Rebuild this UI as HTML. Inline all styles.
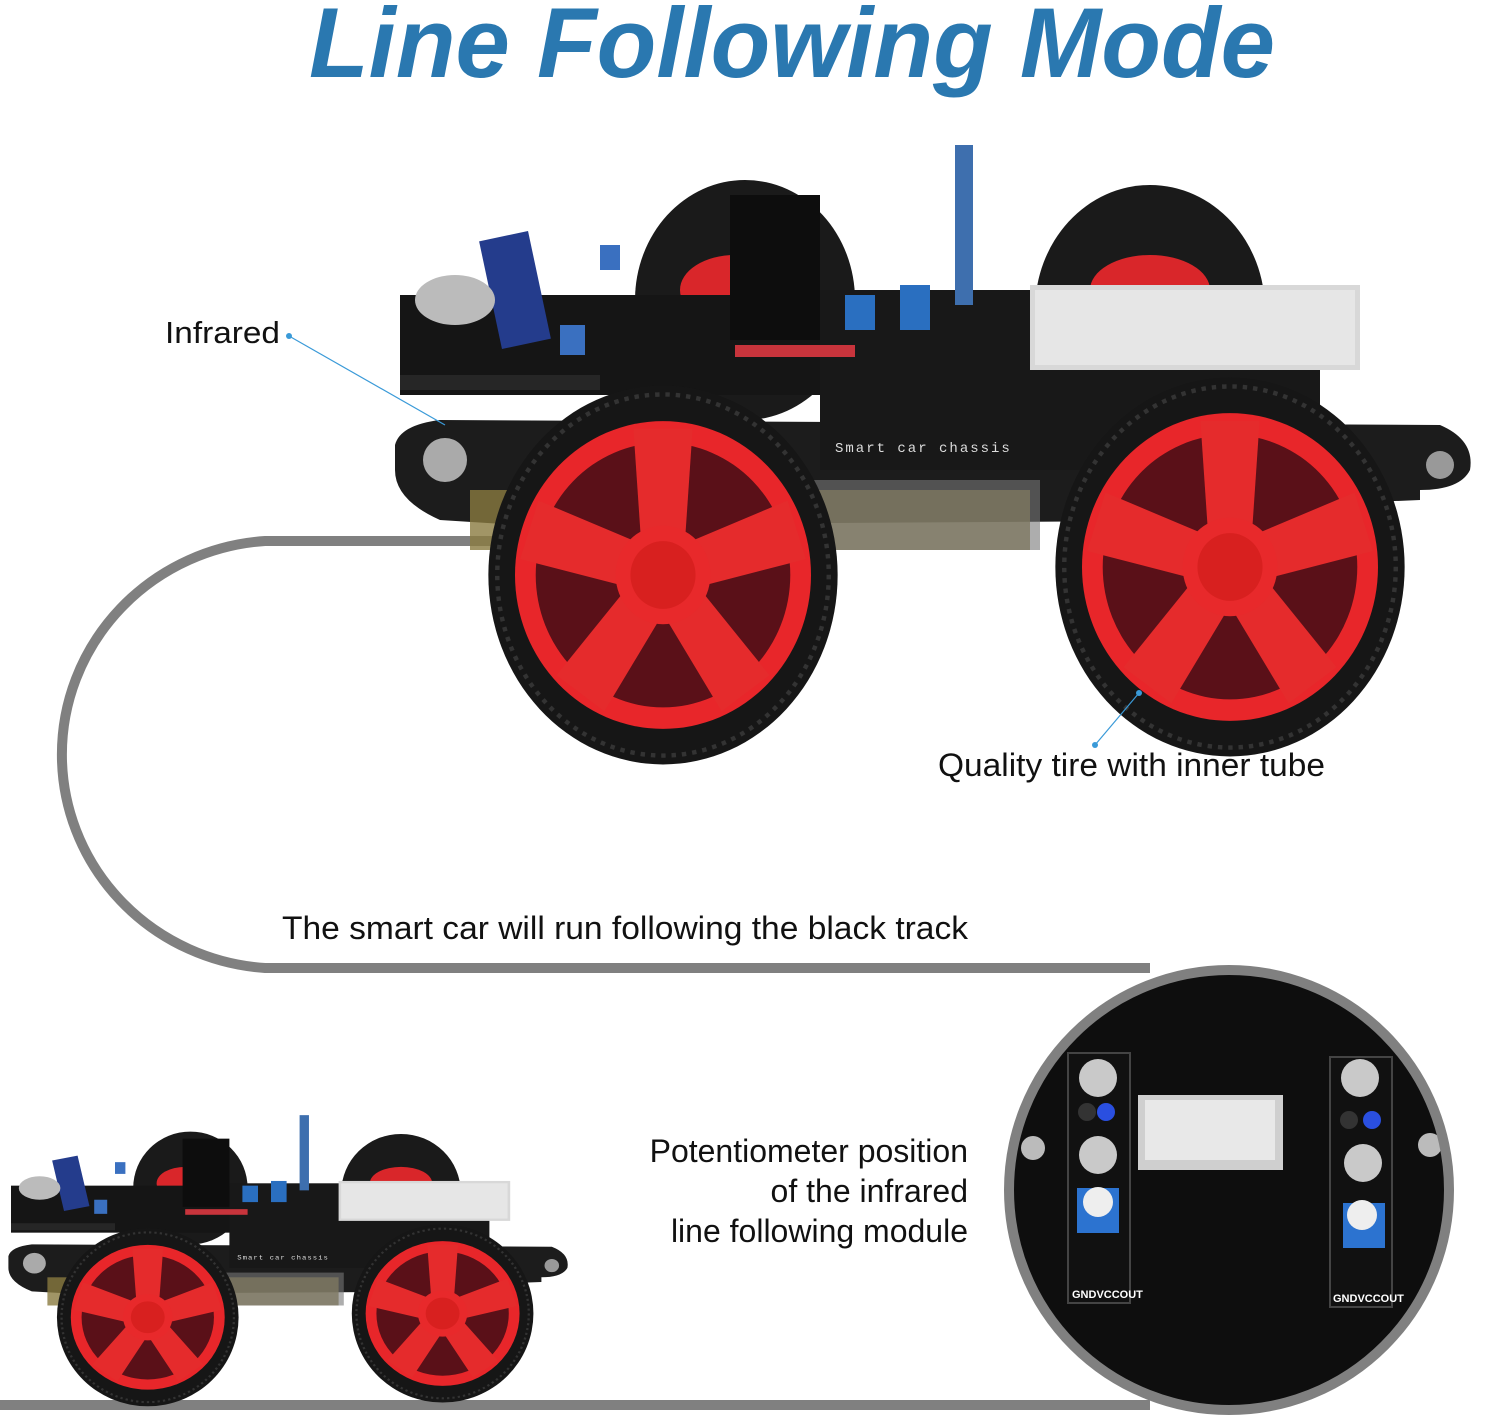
<!DOCTYPE html>
<html><head><meta charset="utf-8"><style>
html,body{margin:0;padding:0;background:#fff}
svg{display:block}
text{font-family:"Liberation Sans",Arial,sans-serif}
</style></head><body>
<svg width="1487" height="1419" viewBox="0 0 1487 1419" xmlns="http://www.w3.org/2000/svg">
<defs>
<g id="rim">
 <circle r="100" fill="#e8262a"/>
 <circle r="86" fill="#5a1018"/>
 <g fill="#e52b2c">
  <path d="M-14,-10 L-20,-95 L20,-95 L14,-10Z"/>
  <path d="M-14,-10 L-20,-95 L20,-95 L14,-10Z" transform="rotate(72)"/>
  <path d="M-14,-10 L-20,-95 L20,-95 L14,-10Z" transform="rotate(144)"/>
  <path d="M-14,-10 L-20,-95 L20,-95 L14,-10Z" transform="rotate(216)"/>
  <path d="M-14,-10 L-20,-95 L20,-95 L14,-10Z" transform="rotate(288)"/>
 </g>
 <circle r="32" fill="#e8292b"/>
 <circle r="22" fill="#d8201f"/>
</g>
<g id="wheel">
 <ellipse rx="118" ry="128" fill="#161616"/>
 <ellipse rx="112" ry="122" fill="none" stroke="#333" stroke-width="3" stroke-dasharray="3 4"/>
 <g transform="scale(1,1.04)"><use href="#rim"/></g>
</g>
<g id="car">
 <ellipse cx="745" cy="300" rx="110" ry="120" fill="#1a1a1a"/>
 <ellipse cx="735" cy="290" rx="55" ry="35" fill="#d9262a"/>
 <ellipse cx="1150" cy="310" rx="115" ry="125" fill="#1a1a1a"/>
 <ellipse cx="1150" cy="290" rx="60" ry="35" fill="#d9262a"/>
 <path d="M395,445 Q400,425 440,420 L1440,425 Q1475,440 1470,470 Q1460,490 1420,490 L1420,500 L1300,505 L1300,520 L520,525 L440,520 Q395,500 395,470Z" fill="#1c1c1c"/>
 <rect x="400" y="295" width="640" height="100" fill="#151515"/>
 <rect x="820" y="290" width="500" height="180" fill="#181818"/>
 <rect x="470" y="490" width="560" height="60" fill="#8a7a40" opacity="0.8"/>
 <rect x="600" y="480" width="440" height="70" fill="#777" opacity="0.6"/>
 <rect x="1030" y="285" width="330" height="85" fill="#d8d8d8"/>
 <rect x="1035" y="290" width="320" height="75" fill="#e6e6e6"/>
 <rect x="730" y="195" width="90" height="145" fill="#0d0d0d"/>
 <rect x="735" y="345" width="120" height="12" fill="#c8343c"/>
 <rect x="845" y="295" width="30" height="35" fill="#2a6fc0"/>
 <rect x="900" y="285" width="30" height="45" fill="#2a6fc0"/>
 <rect x="955" y="145" width="18" height="160" fill="#3e6fae"/>
 <rect x="490" y="235" width="50" height="110" fill="#243c8c" transform="rotate(-12 515 290)"/>
 <ellipse cx="455" cy="300" rx="40" ry="25" fill="#bbb"/>
 <rect x="600" y="245" width="20" height="25" fill="#3a70c0"/>
 <rect x="560" y="325" width="25" height="30" fill="#3a70c0"/>
 <rect x="400" y="375" width="200" height="15" fill="#262626"/>
 <circle cx="445" cy="460" r="22" fill="#aaa"/>
 <circle cx="1440" cy="465" r="14" fill="#999"/>
 <text x="835" y="452" fill="#ddd" font-size="14" letter-spacing="2" style="font-family:'Liberation Mono',monospace">Smart car chassis</text>
 <g transform="translate(663,575) scale(1.48)"><use href="#wheel"/></g>
 <g transform="translate(1230,567) scale(1.48)"><use href="#wheel"/></g>
</g>
</defs>

<text x="792" y="77" text-anchor="middle" font-size="99" font-weight="bold" font-style="italic" fill="#2a78b0" textLength="966" lengthAdjust="spacingAndGlyphs">Line Following Mode</text>

<path d="M520,541 L265,541 A218,214 0 0 0 265,968 L1150,968" fill="none" stroke="#808080" stroke-width="10"/>
<line x1="0" y1="1405" x2="1150" y2="1405" stroke="#808080" stroke-width="10"/>

<use href="#car"/>

<g transform="translate(-197,1047) scale(0.52,0.47)"><use href="#car"/></g>

<circle cx="1229" cy="1190" r="217" fill="#0e0e0e"/>
<rect x="1138" y="1095" width="145" height="75" fill="#cfcfcf"/>
<rect x="1145" y="1100" width="130" height="60" fill="#e8e8e8"/>
<g>
 <rect x="1068" y="1053" width="62" height="250" fill="#111" stroke="#444" stroke-width="2"/>
 <circle cx="1098" cy="1078" r="19" fill="#c9c9c9"/>
 <circle cx="1087" cy="1112" r="9" fill="#333"/>
 <circle cx="1106" cy="1112" r="9" fill="#2a4fe0"/>
 <circle cx="1098" cy="1155" r="19" fill="#c9c9c9"/>
 <rect x="1077" y="1188" width="42" height="45" fill="#2c73d0"/>
 <circle cx="1098" cy="1202" r="15" fill="#eee"/>
 <text x="1072" y="1298" fill="#fff" font-size="11" font-weight="bold">GNDVCCOUT</text>
</g>
<g>
 <rect x="1330" y="1057" width="62" height="250" fill="#111" stroke="#444" stroke-width="2"/>
 <circle cx="1360" cy="1078" r="19" fill="#c9c9c9"/>
 <circle cx="1349" cy="1120" r="9" fill="#333"/>
 <circle cx="1372" cy="1120" r="9" fill="#2a4fe0"/>
 <circle cx="1363" cy="1163" r="19" fill="#c9c9c9"/>
 <rect x="1343" y="1203" width="42" height="45" fill="#2c73d0"/>
 <circle cx="1362" cy="1215" r="15" fill="#eee"/>
 <text x="1333" y="1302" fill="#fff" font-size="11" font-weight="bold">GNDVCCOUT</text>
</g>
<circle cx="1033" cy="1148" r="12" fill="#bbb"/>
<circle cx="1430" cy="1145" r="12" fill="#bbb"/>
<circle cx="1229" cy="1190" r="220" fill="none" stroke="#808080" stroke-width="10"/>

<text x="165" y="343" font-size="31" fill="#111" textLength="115" lengthAdjust="spacingAndGlyphs">Infrared</text>
<circle cx="289" cy="336" r="3" fill="#3a9ad8"/>
<line x1="289" y1="336" x2="445" y2="425" stroke="#3a9ad8" stroke-width="1.2"/>
<text x="938" y="776" font-size="32" fill="#111" textLength="387" lengthAdjust="spacingAndGlyphs">Quality tire with inner tube</text>
<circle cx="1139" cy="693" r="3" fill="#3a9ad8"/>
<circle cx="1095" cy="745" r="3" fill="#3a9ad8"/>
<line x1="1139" y1="693" x2="1095" y2="745" stroke="#3a9ad8" stroke-width="1.2"/>
<text x="282" y="939" font-size="32" fill="#111" textLength="686" lengthAdjust="spacingAndGlyphs">The smart car will run following the black track</text>
<text x="968" y="1162" font-size="32" fill="#111" text-anchor="end">Potentiometer position</text>
<text x="968" y="1202" font-size="32" fill="#111" text-anchor="end">of the infrared</text>
<text x="968" y="1242" font-size="32" fill="#111" text-anchor="end">line following module</text>
</svg>
</body></html>
